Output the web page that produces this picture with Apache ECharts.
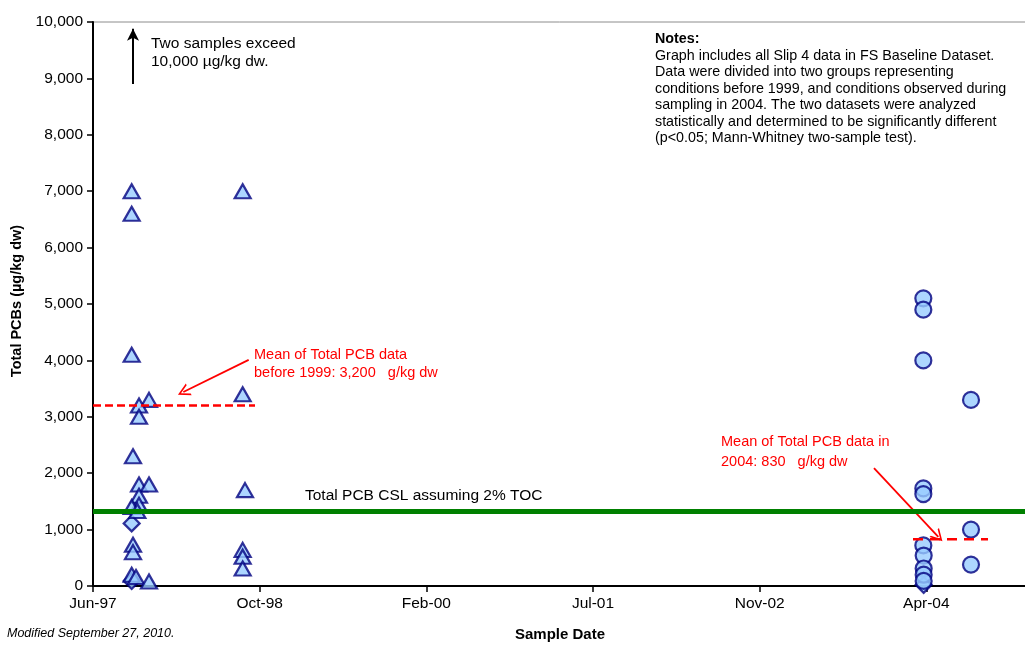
<!DOCTYPE html>
<html>
<head>
<meta charset="utf-8">
<script src="https://cdn.jsdelivr.net/npm/echarts@6/dist/echarts.min.js"></script>
<style>
  html, body { margin: 0; padding: 0; background: #fff; }
  #chart { width: 1025px; height: 647px; }
</style>
</head>
<body>
<div id="chart"></div>
<script>
// Total PCBs at Slip 4, sampled before 1999 and in 2004 (µg/kg dw)
const pre1999 = [
  ['1997-09-25', 7000], ['1997-09-25', 6600], ['1997-09-25', 4100],
  ['1997-11-16', 3300], ['1997-10-17', 3200], ['1997-10-17', 3000],
  ['1997-09-29', 2300], ['1997-10-17', 1800], ['1997-11-16', 1800],
  ['1997-10-17', 1600], ['1997-10-17', 1440], ['1997-09-25', 1400],
  ['1997-10-12', 1330], ['1997-09-29', 730], ['1997-09-29', 600],
  ['1997-09-25', 200], ['1997-10-08', 160], ['1997-11-16', 80],
  ['1998-08-24', 7000], ['1998-08-24', 3400], ['1998-08-31', 1700],
  ['1998-08-24', 640], ['1998-08-24', 520], ['1998-08-24', 310]
];
const samples2004 = [
  ['2004-03-27', 5100], ['2004-03-27', 4900], ['2004-03-27', 4000],
  ['2004-08-17', 3300], ['2004-03-27', 1730], ['2004-03-27', 1630],
  ['2004-08-17', 1000], ['2004-03-27', 720], ['2004-08-17', 380],
  ['2004-03-28', 540], ['2004-03-28', 310], ['2004-03-28', 200],
  ['2004-03-28', 90]
];
const otherSamples = [
  ['1997-09-25', 1110], ['1997-09-25', 90], ['2004-03-28', 20]
];

// Reference levels
const cslValue = 1320;                 // Total PCB CSL assuming 2% TOC
const meanPre1999 = 3200;
const meanPre1999Span = ['1997-06-01', '1998-09-30'];
const mean2004 = 830;
const mean2004Span = ['2004-02-25', '2004-10-07'];

// Axis ticks: every 500 days from Jun-97
const xTickLabels = ['Jun-97', 'Oct-98', 'Feb-00', 'Jul-01', 'Nov-02', 'Apr-04', 'Aug-05'];
const xTickStep = 500;
const xMax = 3000;

const ORIGIN = Date.UTC(1997, 5, 1);
const dayOf = s => (Date.parse(s + 'T00:00:00Z') - ORIGIN) / 86400000;
const toXY = arr => arr.map(d => [dayOf(d[0]), d[1]]);

const FONT = '"Liberation Sans", Arial, sans-serif';
const markerStyle = { color: '#99CCFF', borderColor: '#000080', borderWidth: 2.2 };

// Chevron arrow head (tip pointing up in path space)
const chevron = 'path://M5,0 L10,10 L8.6,10 L5,2.8 L1.4,10 L0,10 Z';

const chart = echarts.init(document.getElementById('chart'), null, { renderer: 'canvas' });

chart.setOption({
  animation: false,
  backgroundColor: '#fff',
  grid: {
    left: 93, top: 22, width: 1000, height: 564,
    outerBoundsMode: 'none', containLabel: false,
    show: true, borderColor: '#8c8c8c', borderWidth: 1, backgroundColor: 'transparent'
  },
  xAxis: {
    type: 'value', min: 0, max: xMax, interval: xTickStep,
    axisLine: { show: true, lineStyle: { color: '#000', width: 2 } },
    axisTick: { show: true, inside: false, length: 6, lineStyle: { color: '#000', width: 1.5 } },
    axisLabel: {
      color: '#000', fontSize: 15.5, fontFamily: FONT, margin: 10,
      formatter: v => xTickLabels[Math.round(v / xTickStep)] || ''
    },
    splitLine: { show: false }
  },
  yAxis: {
    type: 'value', min: 0, max: 10000, interval: 1000,
    axisLine: { show: true, lineStyle: { color: '#000', width: 2 } },
    axisTick: { show: true, inside: false, length: 6, lineStyle: { color: '#000', width: 1.5 } },
    axisLabel: {
      color: '#000', fontSize: 15.5, fontFamily: FONT, margin: 10,
      formatter: v => v.toLocaleString('en-US')
    },
    splitLine: { show: false }
  },
  series: [
    {
      type: 'scatter', name: 'Before 1999', symbol: 'triangle', symbolSize: [16, 14],
      itemStyle: markerStyle, data: toXY(pre1999), clip: false, z: 3
    },
    {
      type: 'scatter', name: 'Other', symbol: 'diamond', symbolSize: [16, 16],
      itemStyle: markerStyle, data: toXY(otherSamples), clip: false, z: 2
    },
    {
      type: 'scatter', name: '2004', symbol: 'circle', symbolSize: 16,
      itemStyle: markerStyle, data: toXY(samples2004), clip: false, z: 3
    },
    {
      type: 'line', name: 'CSL', data: [[0, cslValue], [xMax, cslValue]],
      symbol: 'none', lineStyle: { color: '#008000', width: 5 }, z: 6, silent: true
    },
    {
      type: 'line', name: 'Mean before 1999',
      data: meanPre1999Span.map(d => [dayOf(d), meanPre1999]),
      symbol: 'none', lineStyle: { color: '#FF0000', width: 2.5, type: [8, 4] }, z: 7, silent: true
    },
    {
      type: 'line', name: 'Mean 2004',
      data: mean2004Span.map(d => [dayOf(d), mean2004]),
      symbol: 'none', lineStyle: { color: '#FF0000', width: 2.5, type: [10, 7] }, z: 7, silent: true
    },
    {
      // Annotation arrows
      type: 'line', data: [], silent: true, z: 8,
      markLine: {
        silent: true, animation: false, label: { show: false },
        data: [
          [
            { coord: [120, 8900], symbol: 'none', lineStyle: { color: '#000', width: 2, type: 'solid' } },
            { coord: [120, 9880], symbol: 'arrow', symbolSize: [9, 12] }
          ],
          [
            { coord: [467, 4010], symbol: 'none', lineStyle: { color: '#FF0000', width: 1.8, type: 'solid' } },
            { coord: [271, 3440], symbol: chevron, symbolSize: [13, 12] }
          ],
          [
            { coord: [2343, 2090], symbol: 'none', lineStyle: { color: '#FF0000', width: 1.8, type: 'solid' } },
            { coord: [2536, 870], symbol: chevron, symbolSize: [13, 12] }
          ]
        ]
      }
    }
  ],
  graphic: [
    {
      type: 'text', left: 151, top: 35,
      style: { text: 'Two samples exceed\n10,000 µg/kg dw.', font: '15.5px ' + FONT, fill: '#000', lineHeight: 18 }
    },
    {
      type: 'text', left: 655, top: 31,
      style: {
        text: '{b|Notes:}\nGraph includes all Slip 4 data in FS Baseline Dataset.\nData were divided into two groups representing\nconditions before 1999, and conditions observed during\nsampling in 2004. The two datasets were analyzed\nstatistically and determined to be significantly different\n(p<0.05; Mann-Whitney two-sample test).',
        font: '14.3px ' + FONT, fill: '#000', lineHeight: 16.5,
        rich: { b: { font: 'bold 14.3px ' + FONT, fill: '#000', lineHeight: 16.5 } }
      }
    },
    {
      type: 'text', left: 254, top: 346,
      style: { text: 'Mean of Total PCB data\nbefore 1999: 3,200   g/kg dw', font: '14.5px ' + FONT, fill: '#FF0000', lineHeight: 18 }
    },
    {
      type: 'text', left: 721, top: 432,
      style: { text: 'Mean of Total PCB data in\n2004: 830   g/kg dw', font: '14.5px ' + FONT, fill: '#FF0000', lineHeight: 20 }
    },
    {
      type: 'text', left: 305, top: 488,
      style: { text: 'Total PCB CSL assuming 2% TOC', font: '15.5px ' + FONT, fill: '#000' }
    },
    {
      type: 'text', x: 17, y: 301, rotation: Math.PI / 2,
      style: { text: 'Total PCBs (µg/kg dw)', font: 'bold 14.5px ' + FONT, fill: '#000', align: 'center', verticalAlign: 'middle' }
    },
    {
      type: 'text', x: 560, y: 635,
      style: { text: 'Sample Date', font: 'bold 15px ' + FONT, fill: '#000', align: 'center', verticalAlign: 'middle' }
    },
    {
      type: 'text', left: 7, top: 627,
      style: { text: 'Modified September 27, 2010.', font: 'italic 12.5px ' + FONT, fill: '#000' }
    }
  ]
});
</script>
</body>
</html>
